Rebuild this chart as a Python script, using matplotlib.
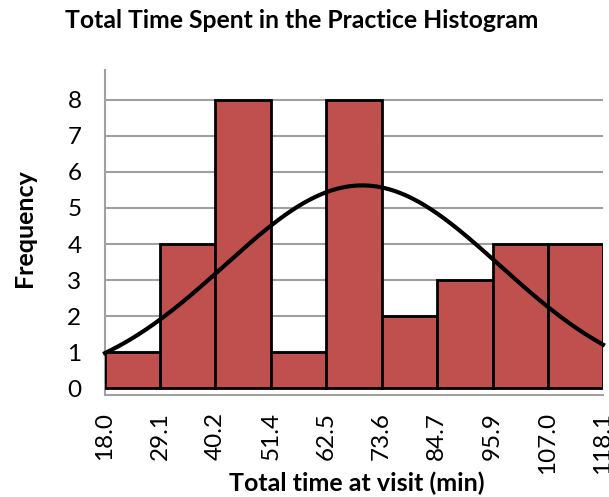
import numpy as np
import matplotlib
matplotlib.use("Agg")
import matplotlib.pyplot as plt

bin_edges = [18.0, 29.1, 40.2, 51.4, 62.5, 73.6, 84.7, 95.9, 107.0, 118.1]
edge_labels = ["18.0", "29.1", "40.2", "51.4", "62.5", "73.6", "84.7", "95.9", "107.0", "118.1"]
counts = [1, 4, 8, 1, 8, 2, 3, 4, 4]
fit_mean = 69.7
fit_sd = 27.6

plt.rcParams['font.family'] = ['Lato', 'DejaVu Sans']

W, H = 609, 497
fig = plt.figure(figsize=(W/100, H/100), dpi=100)
x0, x1 = 105, 603
ytop, ybot = 70, 395
ax = fig.add_axes([x0/W, 1-ybot/H, (x1-x0)/W, (ybot-ytop)/H])

edges = np.array(bin_edges)
widths = np.diff(edges)
ax.bar(edges[:-1], counts, width=widths, align='edge', color='#C0504D',
       edgecolor='black', linewidth=2, zorder=3)

n = sum(counts)
bw = widths.mean()
xs = np.linspace(edges[0], edges[-1], 300)
ys = n * bw / (fit_sd*np.sqrt(2*np.pi)) * np.exp(-0.5*((xs-fit_mean)/fit_sd)**2)
ax.plot(xs, ys, color='black', linewidth=3, zorder=4, clip_on=False)

ax.set_xlim(edges[0], edges[-1])
ax.set_ylim(-0.19, 8.83)
ax.set_yticks(range(0, 9))
for v in range(1, 9):
    ax.axhline(v, color='#A0A0A0', linewidth=1.5, zorder=1)
ax.set_xticks(edges)
ax.set_xticklabels(edge_labels, rotation=90, fontsize=17.5)
ax.tick_params(axis='y', labelsize=17.5, length=0, pad=17)
ax.tick_params(axis='x', length=0, pad=12)

for s in ['top', 'right']:
    ax.spines[s].set_visible(False)
ax.spines['left'].set_color('#A0A0A0')
ax.spines['left'].set_linewidth(1.5)
ax.spines['bottom'].set_color('#A0A0A0')
ax.spines['bottom'].set_linewidth(1.5)

fig.text(302/W, 1-21/H, "Total Time Spent in the Practice Histogram", ha='center', va='center',
         fontsize=17.8, fontweight='bold')
fig.text(357/W, 1-483/H, "Total time at visit (min)", ha='center', va='center',
         fontsize=18, fontweight='bold')
fig.text(24/W, 1-228/H, "Frequency", ha='center', va='center', rotation=90,
         fontsize=18, fontweight='bold')

fig.savefig("out.png", dpi=100)
